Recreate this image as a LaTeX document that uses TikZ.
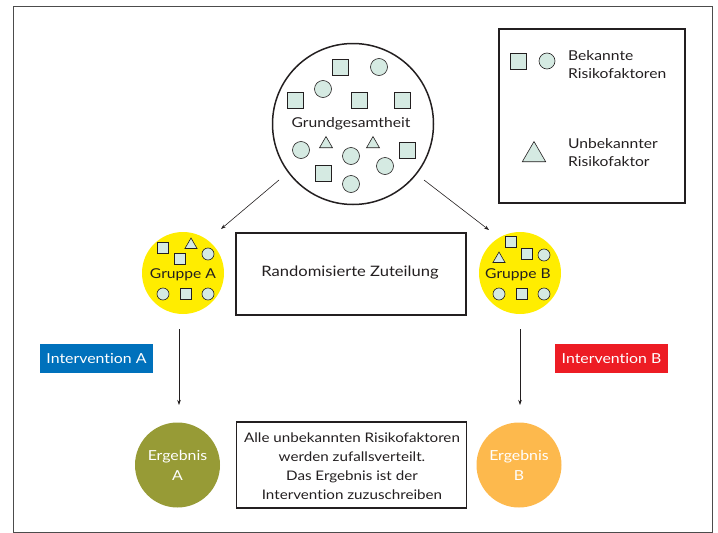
\documentclass[tikz,border=0pt]{standalone}
\usepackage{fontspec}
\setmainfont{Lato}[FakeStretch=1.15,Ligatures=NoCommon]
\usetikzlibrary{shapes.geometric,arrows.meta}
\definecolor{rf}{HTML}{D5EAE2}
\definecolor{lc}{HTML}{231F20}
\definecolor{gelb}{HTML}{FFED00}
\definecolor{blau}{HTML}{0071BC}
\definecolor{rot}{HTML}{ED1C24}
\definecolor{oliv}{HTML}{979B36}
\definecolor{orang}{HTML}{FDB94D}
\tikzset{
  sq/.style={draw=lc, line width=0.6pt, fill=rf, minimum size=#1, inner sep=0pt},
  sq/.default=16pt,
  ci/.style={circle, draw=lc, line width=0.6pt, fill=rf, minimum size=#1, inner sep=0pt},
  ci/.default=17pt,
  tri/.style={regular polygon, regular polygon sides=3, draw=lc, line width=0.6pt, fill=rf, minimum size=#1, inner sep=0pt},
  tri/.default=16pt,
  boxx/.style={draw=lc, line width=1.4pt, inner sep=0pt},
  txt/.style={font=\fontsize{13.6}{18}\selectfont, text=lc, inner sep=0pt, align=center},
  conn/.style={draw=lc, line width=0.6pt, -{Stealth[length=5pt,width=3.5pt]}},
  tag/.style={font=\fontsize{13.8}{16}\selectfont, text=white, minimum width=113pt, minimum height=29pt, inner sep=0pt},
  res/.style={circle, minimum size=85pt, inner sep=0pt, font=\fontsize{13.8}{20}\selectfont, text=white, align=center},
}
\begin{document}
\begin{tikzpicture}[x=1pt,y=-1pt]
\useasboundingbox (0,0) rectangle (718,533);
\node[draw=black!70, line width=0.8pt, minimum width=699pt, minimum height=526pt, inner sep=0pt] (frame) at (362.5,269) {};
% Population
\node[circle, draw=lc, line width=1.5pt, minimum size=161pt, inner sep=0pt] (pop) at (353,124) {};
\node[sq] (p1) at (340,67) {};
\node[ci] (p2) at (379,67) {};
\node[ci] (p3) at (323,89) {};
\node[sq] (p4) at (295,100) {};
\node[sq] (p5) at (359,100) {};
\node[sq] (p6) at (402,100) {};
\node[txt] (poptext) at (351,124) {Grundgesamtheit};
\node[ci] (p7) at (301,150) {};
\node[tri=15pt] (p8) at (326,144) {};
\node[ci] (p9) at (351,156) {};
\node[tri=15pt] (p10) at (373,144) {};
\node[sq] (p11) at (407,150) {};
\node[sq] (p12) at (323,173) {};
\node[ci] (p13) at (385,166) {};
\node[ci] (p14) at (351,184) {};
% Legend
\node[boxx, minimum width=186pt, minimum height=174pt] (legend) at (592,116) {};
\node[sq] (l1) at (518,61) {};
\node[ci=16pt] (l2) at (547,61) {};
\node[txt, anchor=west, align=left] (lt1) at (568,65) {Bekannte\\Risikofaktoren};
\node[tri=27pt] (l3) at (534,155) {};
\node[txt, anchor=west, align=left] (lt2) at (568,153) {Unbekannter\\Risikofaktor};
% Groups
\node[circle, fill=gelb, minimum size=82pt, inner sep=0pt] (ga) at (183,273) {};
\node[sq=11pt] (a1) at (163,248) {};
\node[tri=14pt] (a2) at (191,245) {};
\node[ci=12pt] (a3) at (208,254) {};
\node[sq=11pt] (a4) at (180,259) {};
\node[txt] (gatext) at (183,275) {Gruppe A};
\node[ci=12pt] (a5) at (163,294) {};
\node[sq=11pt] (a6) at (186,294) {};
\node[ci=12pt] (a7) at (208,294) {};
\node[circle, fill=gelb, minimum size=82pt, inner sep=0pt] (gb) at (520,273) {};
\node[sq=11pt] (b1) at (511,242) {};
\node[tri=14pt] (b2) at (499,259) {};
\node[sq=11pt] (b3) at (527,254) {};
\node[ci=12pt] (b4) at (544,255) {};
\node[txt] (gbtext) at (518,275) {Gruppe B};
\node[ci=12pt] (b5) at (499,294) {};
\node[sq=11pt] (b6) at (522,294) {};
\node[ci=12pt] (b7) at (544,294) {};
% Randomisation box
\node[boxx, minimum width=230pt, minimum height=82pt] (rand) at (351,274) {};
\node[txt, font=\fontsize{14.4}{18}\selectfont] (randtext) at (350,273) {Randomisierte Zuteilung};
% Arrows
\coordinate (s1) at (279,180);
\coordinate (e1) at (221,229);
\coordinate (s2) at (424,180);
\coordinate (e2) at (489,230);
\draw[conn] (s1) -- (e1);
\draw[conn] (s2) -- (e2);
\coordinate (va1) at (179,329);
\coordinate (va2) at (179,405);
\coordinate (vb1) at (520,329);
\coordinate (vb2) at (520,405);
\draw[conn] (va1) -- (va2);
\draw[conn] (vb1) -- (vb2);
% Interventions
\node[tag, fill=blau] (ia) at (96.5,358.5) {Intervention A};
\node[tag, fill=rot] (ib) at (611.5,358.5) {Intervention B};
% Results
\node[res, fill=oliv] (ea) at (177.5,465) {Ergebnis\\A};
\node[res, fill=orang] (eb) at (519,465) {Ergebnis\\B};
\node[boxx, minimum width=230pt, minimum height=86pt] (concl) at (351.5,465) {};
\node[txt, font=\fontsize{13.2}{19}\selectfont] (concltext) at (352,466.5) {Alle unbekannten Risikofaktoren\\werden zufallsverteilt.\\Das Ergebnis ist der\\Intervention zuzuschreiben};
\end{tikzpicture}
\end{document}
